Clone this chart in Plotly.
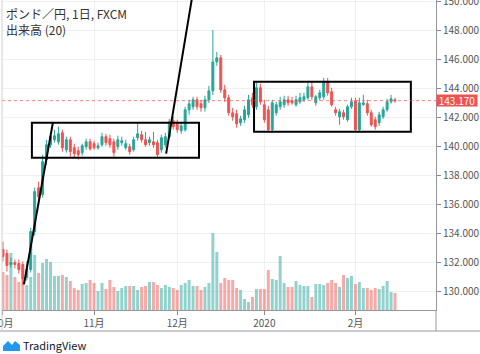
import plotly.graph_objects as go
import pandas as pd

# ---------------- data ----------------
dates = pd.bdate_range("2019-10-01", periods=100)
idx = list(range(len(dates)))

opens = [132.92,132.65,131.89,132.03,131.96,131.89,131.00,131.55,134.16,137.18,
         136.70,139.11,140.14,140.48,140.34,140.96,139.79,140.48,139.93,139.73,
         139.59,140.00,140.34,140.21,139.93,140.14,140.69,140.55,140.34,140.00,
         140.28,139.93,140.00,139.79,140.62,140.83,140.48,140.28,140.34,140.28,
         139.79,140.14,140.69,141.79,141.58,141.10,141.17,142.54,142.75,143.23,
         142.96,142.68,143.23,143.85,145.84,146.12,143.92,143.37,142.34,142.27,
         141.65,141.86,142.20,143.37,142.75,144.06,142.89,142.54,141.17,142.34,
         142.75,142.89,143.23,143.16,142.89,143.09,143.23,143.37,144.12,143.02,
         143.37,143.44,144.47,143.78,142.54,142.06,142.34,141.86,142.75,143.16,
         141.17,142.89,142.96,142.34,141.86,141.65,142.06,142.54,143.09,143.23]

closes = [132.44,131.82,132.03,131.89,131.55,130.93,131.55,134.16,136.91,136.56,
          138.97,140.14,140.69,140.76,140.89,139.93,140.48,139.66,139.52,139.45,
          140.07,140.34,139.86,139.93,140.07,140.69,140.28,140.14,139.59,140.48,
          140.41,140.21,139.66,140.48,140.89,140.48,140.14,140.48,140.14,139.45,
          140.62,140.69,141.72,141.38,141.17,141.44,142.54,142.96,143.23,142.75,
          142.68,143.23,143.85,145.84,146.12,143.92,143.37,142.34,142.06,141.58,
          141.92,142.54,143.23,142.89,144.06,143.09,141.86,141.17,143.02,142.89,
          143.09,143.23,143.02,143.02,143.23,143.37,143.44,144.12,143.44,143.44,
          143.71,144.47,143.71,142.89,142.34,142.41,142.06,142.75,143.09,141.17,
          143.02,143.02,142.34,141.51,141.38,142.20,142.54,143.09,143.30,143.17]

highs = [133.47,132.92,132.37,132.23,132.23,132.10,132.10,134.43,137.18,137.60,
         139.45,140.48,140.96,141.17,141.38,141.17,140.69,140.69,140.21,140.00,
         140.21,140.55,140.55,140.41,140.28,140.96,140.89,140.83,140.55,140.76,
         140.69,140.48,140.21,140.69,141.65,141.10,141.03,140.69,141.03,140.48,
         140.83,140.96,141.92,142.06,141.86,141.72,142.75,143.23,143.44,143.44,
         143.23,143.51,144.19,148.04,146.53,146.32,144.26,143.57,142.68,142.54,
         142.13,142.82,143.57,143.71,144.40,144.33,143.23,142.82,143.23,143.09,
         143.44,143.51,143.51,143.44,143.51,143.71,143.71,144.40,144.47,143.57,
         143.92,144.74,144.74,144.06,142.75,142.61,142.54,142.89,143.37,143.37,
         143.37,143.57,143.23,142.54,142.06,142.41,142.75,143.30,143.57,143.37]

lows = [132.10,131.41,131.68,131.62,131.27,130.45,130.79,131.34,133.88,136.36,
        136.50,138.76,139.93,140.28,140.14,139.66,139.59,139.31,139.24,139.11,
        139.38,139.79,139.73,139.79,139.79,140.00,140.07,139.93,139.31,139.79,
        140.07,139.79,139.45,139.66,140.41,140.28,140.00,140.07,139.93,139.24,
        139.59,139.93,140.55,141.17,140.96,140.89,141.03,142.20,142.54,142.54,
        142.41,142.41,143.02,143.57,145.57,143.71,143.09,142.13,141.79,141.31,
        141.44,141.65,141.99,142.68,142.54,142.89,141.65,140.96,140.96,142.13,
        142.54,142.68,142.82,142.89,142.75,142.96,143.09,143.23,143.23,142.82,
        143.16,143.23,143.51,142.75,142.13,141.51,141.86,141.72,142.61,141.03,
        141.03,142.82,142.13,141.38,141.17,141.44,141.92,142.41,142.96,143.02]

volumes = [38,35,57,33,28,33,25,33,55,37,
           47,51,48,34,34,35,33,29,22,20,
           26,27,30,27,19,27,21,30,23,19,
           22,24,24,24,20,23,24,28,28,25,
           22,25,23,22,20,25,27,30,24,24,
           20,23,27,77,58,27,32,30,30,22,
           20,11,8,13,21,21,21,40,31,30,
           54,27,23,23,29,25,24,24,13,26,
           26,25,27,30,27,23,35,32,34,26,
           28,22,22,20,22,21,24,29,18,17]

month_labels = ["10月", "11月", "12月", "2020", "2月"]
last_price = 143.17
legend_lines = ["ポンド／円, 1日, FXCM", "出来高 (20)"]

# user drawings (bar index, price)
box_left = [7.3, 139.24, 49.5, 141.65]
box_right = [63.4, 141.03, 103.0, 144.47]
trend_1 = [5.3, 130.52, 12.6, 141.65]
trend_2 = [41.2, 139.52, 48.8, 152.0]

# ---------------- figure ----------------
UP, DOWN = "#26a69a", "#ef5350"
UP_V, DOWN_V = "rgba(38,166,154,0.5)", "rgba(239,83,80,0.5)"
vol_colors = [UP_V if c >= o else DOWN_V for o, c in zip(opens, closes)]

tickvals = [i for i in idx if i == 0 or dates[i].month != dates[i - 1].month]

FONT = "Noto Sans CJK JP"
fig = go.Figure()
fig.add_trace(go.Bar(x=idx, y=volumes, marker=dict(color=vol_colors, line=dict(width=0)),
                     yaxis="y", hoverinfo="skip"))
fig.add_trace(go.Candlestick(
    x=idx, open=opens, high=highs, low=lows, close=closes, yaxis="y2",
    increasing=dict(line=dict(color=UP, width=1), fillcolor=UP),
    decreasing=dict(line=dict(color=DOWN, width=1), fillcolor=DOWN),
    whiskerwidth=0))

W, H = 480, 354
ml, mr, mt, mb = 2, 44, 0, 44
pw, ph = W - ml - mr, H - mt - mb


def px(xp):
    return (xp - ml) / pw


def py(yp):
    return (ph - yp) / ph


shapes = []
for b in (box_left, box_right):
    shapes.append(dict(type="rect", xref="x", yref="y2", x0=b[0], y0=b[1], x1=b[2], y1=b[3],
                       line=dict(color="#000000", width=2)))
for t in (trend_1, trend_2):
    shapes.append(dict(type="line", xref="x", yref="y2", x0=t[0], y0=t[1], x1=t[2], y1=t[3],
                       line=dict(color="#000000", width=2)))
shapes.append(dict(type="line", xref="paper", yref="y2", x0=0, x1=1, y0=last_price, y1=last_price,
                   line=dict(color="rgba(239,83,80,0.7)", width=1, dash="dot")))
frame = "#9598a1"
shapes += [
    dict(type="line", xref="paper", yref="paper", x0=1, x1=1, y0=py(331), y1=0, line=dict(color=frame, width=1)),
    dict(type="line", xref="paper", yref="paper", x0=px(0), x1=px(480), y0=py(331), y1=py(331), line=dict(color=frame, width=1)),
    dict(type="line", xref="paper", yref="paper", x0=0, x1=0, y0=py(331), y1=1, line=dict(color="#d0d0d0", width=1)),
    dict(type="path", xref="paper", yref="paper",
         path=f"M {px(3)},{py(351)} L {px(3)},{py(346)} L {px(8)},{py(341)} L {px(12)},{py(345)} "
              f"L {px(15)},{py(341)} L {px(20)},{py(345)} L {px(20)},{py(351)} Z",
         fillcolor="#2196f3", line=dict(width=0)),
]

annotations = [
    dict(text="<br>".join(legend_lines), xref="paper", yref="paper", x=px(4), y=py(3), xanchor="left",
         yanchor="top", align="left", showarrow=False, font=dict(size=12, color="#333", family=FONT)),
    dict(text=f"{last_price:.3f}", xref="paper", yref="y2", x=1, y=last_price, xanchor="left",
         yanchor="middle", showarrow=False, bgcolor=DOWN, width=40, height=11, borderpad=0,
         font=dict(size=10, color="white", family=FONT)),
    dict(text="TradingView", xref="paper", yref="paper", x=px(21), y=py(345), xanchor="left",
         yanchor="middle", showarrow=False, font=dict(size=11, color="#131722", family=FONT)),
]

fig.update_layout(
    width=W, height=H, margin=dict(l=ml, r=mr, t=mt, b=mb, autoexpand=False),
    paper_bgcolor="white", plot_bgcolor="white", showlegend=False,
    font=dict(family=FONT, size=10, color="#555"),
    bargap=0.25,
    xaxis=dict(range=[-0.25, 109.35], tickvals=tickvals, ticktext=month_labels,
               showgrid=True, gridcolor="#f0f0f0", zeroline=False, automargin=False,
               ticks="outside", ticklen=4, tickcolor="#888", ticklabeloverflow="allow",
               showline=True, linecolor=frame, rangeslider=dict(visible=False),
               tickfont=dict(size=10, color="#555")),
    yaxis=dict(range=[0, 310], visible=False, fixedrange=True, automargin=False),
    yaxis2=dict(overlaying="y", side="right", range=[128.76, 150.1], tick0=130, dtick=2,
                tickformat=".3f", showgrid=True, gridcolor="#f0f0f0", zeroline=False,
                ticks="outside", ticklen=4, tickcolor="#888", showline=True, linecolor=frame,
                ticklabeloverflow="allow", automargin=False,
                tickfont=dict(size=10, color="#555")),
    shapes=shapes, annotations=annotations,
)

fig.write_html("out.html")
